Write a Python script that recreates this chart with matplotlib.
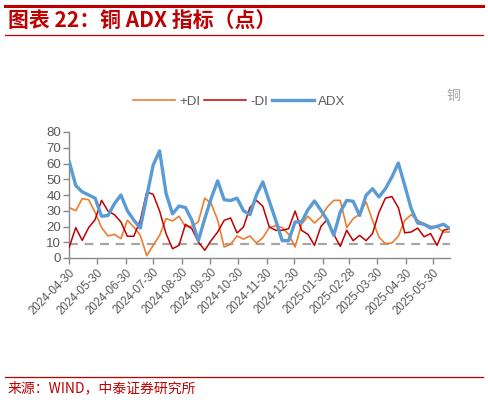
import numpy as np
import pandas as pd
import matplotlib
matplotlib.use("Agg")
import matplotlib.pyplot as plt
import matplotlib.lines as mlines

plt.rcParams['font.family'] = ['Liberation Sans', 'Noto Sans CJK SC', 'DejaVu Sans']

# weekly readings of the copper ADX indicator
start_date = "2024-04-30"
n_weeks = 60

plus_di = [32, 30, 37.7, 37, 29, 19.3, 14, 15, 12.3, 24,
           19.7, 14.4, 1.5, 8, 14.4, 25, 23.5, 26.5, 20, 20,
           23, 38, 34.5, 24, 7, 8.7, 14, 12, 14, 9.5,
           12.9, 19.3, 20.5, 19.3, 15, 7, 21.4, 26.5, 22.2, 26,
           32.4, 36.6, 36.6, 19.3, 25, 27.7, 35.6, 23.9, 13.3, 9.1,
           9.5, 13.8, 23.9, 27.5, 23.9, 21.8, 20.1, 19.7, 16.5, 16.5]

minus_di = [7, 19.3, 11.2, 19.3, 24.3, 36.6, 29.8, 27.5, 22.9, 13.8,
            13.8, 23.9, 41.9, 40.4, 29.8, 15.4, 5.9, 8, 21.4, 18.6,
            10.2, 4.9, 11.2, 16.5, 23.9, 25.4, 15.9, 19.7, 32, 36.6,
            32.8, 19.7, 17.6, 17.6, 18.6, 29.8, 17.6, 15, 8, 20,
            24.5, 15, 7.4, 17.6, 11, 14.4, 11, 15.5, 29, 38,
            39, 32, 16, 16.5, 19, 13.5, 15.5, 8, 17.6, 18.6]

adx = [61, 46, 42, 40, 38, 26.5, 27, 34.5, 40, 30,
       24, 19, 39, 59, 68, 41, 28, 33, 32, 24,
       11, 25, 38, 49, 37, 36.5, 38, 30, 27.5, 40,
       48.3, 36, 24, 11, 11, 22.9, 22.9, 30.7, 36.2, 30.3,
       23.9, 14.4, 29.2, 36.6, 36, 27, 39.8, 44, 38.7, 44,
       51.4, 60.3, 46, 31.3, 22.2, 21.4, 19, 20.1, 21.4, 18.6]

threshold = 8.8

tick_labels = ["2024-04-30", "2024-05-30", "2024-06-30", "2024-07-30", "2024-08-30",
               "2024-09-30", "2024-10-30", "2024-11-30", "2024-12-30", "2025-01-30",
               "2025-02-28", "2025-03-30", "2025-04-30", "2025-05-30"]

dates = pd.date_range(start_date, periods=n_weeks, freq="7D")
ticks = pd.to_datetime(tick_labels)

red = "#C00000"
orange = "#ED7D31"
blue = "#5B9BD5"
grey_txt = "#595959"

fig = plt.figure(figsize=(4.88, 4.00), dpi=100)

# header / footer rules
fig.add_artist(mlines.Line2D([0.01, 0.99], [0.985, 0.985], color=red, lw=2.2))
fig.add_artist(mlines.Line2D([0.01, 0.99], [0.912, 0.912], color=red, lw=0.9))
fig.add_artist(mlines.Line2D([0.01, 0.99], [0.057, 0.057], color=red, lw=0.9))
fig.text(0.016, 0.948, "图表 22：铜 ADX 指标（点）", color=red, fontsize=15,
         fontweight="bold", family=["Noto Sans CJK SC", "DejaVu Sans"], va="center")
fig.text(0.016, 0.030, "来源：WIND，中泰证券研究所", color=red, fontsize=10,
         family=["Noto Sans CJK SC", "DejaVu Sans"], va="center")

ax = fig.add_axes([0.142, 0.355, 0.780, 0.315])
ax.axhline(threshold, color="#A6A6A6", lw=1.6, ls=(0, (4, 3)), zorder=1)
l1, = ax.plot(dates, plus_di, color=orange, lw=1.2, label="+DI", zorder=2)
l2, = ax.plot(dates, minus_di, color=red, lw=1.1, label="-DI", zorder=3)
l3, = ax.plot(dates, adx, color=blue, lw=2.4, label="ADX", zorder=4)

ax.set_xlim(dates[0], dates[-1])
ax.set_ylim(0, 80)
ax.set_yticks(np.arange(0, 81, 10))
ax.set_xticks(ticks)
ax.set_xticklabels(tick_labels, rotation=45, ha="right", rotation_mode="anchor")

for side in ["top", "right"]:
    ax.spines[side].set_visible(False)
for side in ["left", "bottom"]:
    ax.spines[side].set_color("#898989")
    ax.spines[side].set_linewidth(1.0)
ax.tick_params(axis="y", colors="#898989", labelcolor=grey_txt, labelsize=9.5,
               length=4, width=1, pad=2)
ax.tick_params(axis="x", colors="#898989", labelcolor=grey_txt, labelsize=8.3,
               length=4, width=1, pad=2)

fig.legend(handles=[l1, l2, l3], loc="center", bbox_to_anchor=(0.49, 0.745), ncol=3,
           frameon=False, fontsize=9.5, handlelength=3.2, columnspacing=0.3,
           handletextpad=0.3, labelcolor=grey_txt)
fig.text(0.915, 0.76, "铜", color="#A6A6A6", fontsize=10,
         family=["Noto Sans CJK SC", "DejaVu Sans"], va="center")

fig.savefig("out.png", dpi=100)
